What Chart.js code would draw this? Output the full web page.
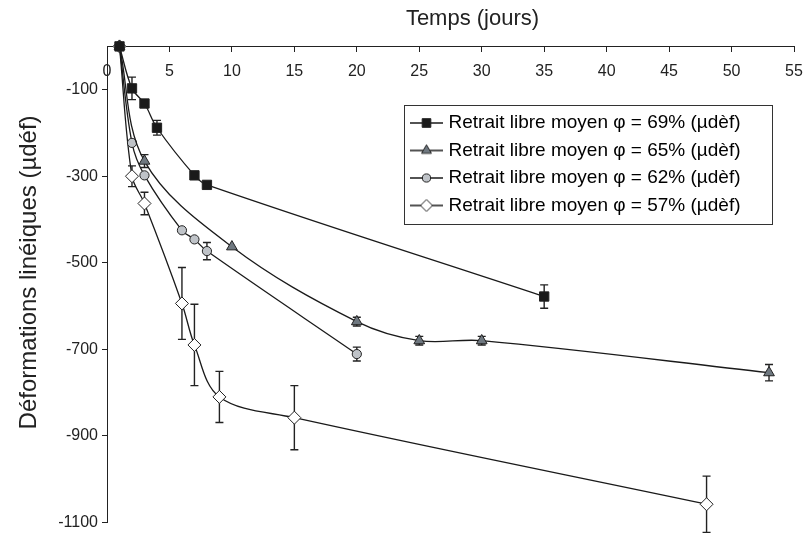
<!DOCTYPE html>
<html>
<head>
<meta charset="utf-8">
<script src="https://cdn.jsdelivr.net/npm/chart.js@4.4.0/dist/chart.umd.min.js"></script>
<style>
  html, body { margin: 0; padding: 0; background: #fff; }
</style>
</head>
<body>
<canvas id="retrait" width="806" height="536"></canvas>
<script>
'use strict';

// retrait libre moyen, temps en jours, déformations en µdéf, erreurs = demi-barres
const jours69 = [1, 2, 3, 4, 7, 8, 35];
const retrait69 = [0, -97, -132, -188, -298, -320, -578];
const erreur69 = [0, 26, 0, 17, 0, 0, 27];

const jours65 = [1, 3, 10, 20, 25, 30, 53];
const retrait65 = [0, -265, -463, -636, -680, -680, -754];
const erreur65 = [0, 15, 0, 10, 10, 10, 19];

const jours62 = [1, 2, 3, 6, 7, 8, 20];
const retrait62 = [0, -223, -298, -425, -446, -473, -711];
const erreur62 = [0, 0, 0, 0, 0, 20, 16];

const jours57 = [1, 2, 3, 6, 7, 9, 15, 48];
const retrait57 = [0, -300, -363, -594, -690, -810, -858, -1058];
const erreur57 = [0, 24, 26, 83, 94, 59, 74, 65];

const libelles = [
  'Retrait libre moyen \u03C6 = 69% (µdèf)',
  'Retrait libre moyen \u03C6 = 65% (µdèf)',
  'Retrait libre moyen \u03C6 = 62% (µdèf)',
  'Retrait libre moyen \u03C6 = 57% (µdèf)'
];

const yTicks = [-1100, -900, -700, -500, -300, -100];

const police = '"Liberation Sans", Arial, Helvetica, sans-serif';
const noir = '#1a1a1a';

function points(xs, ys) {
  return xs.map((x, i) => ({x: x, y: ys[i]}));
}

// petit dessin trait + marqueur pour la légende
function icone(style, fond, rayon) {
  const c = document.createElement('canvas');
  c.width = 33;
  c.height = 16;
  const ctx = c.getContext('2d');
  ctx.strokeStyle = noir;
  ctx.lineWidth = 1.3;
  ctx.beginPath();
  ctx.moveTo(0, 8);
  ctx.lineTo(33, 8);
  ctx.stroke();
  ctx.fillStyle = fond;
  ctx.strokeStyle = '#222';
  ctx.lineWidth = 1;
  Chart.helpers.drawPoint(ctx, {pointStyle: style, radius: rayon, borderWidth: 1, rotation: 0}, 16.5, 8);
  return c;
}

function serie(label, xs, ys, errs, style, fond, rayon) {
  return {
    label: label,
    data: points(xs, ys),
    erreurs: errs,
    borderColor: noir,
    borderWidth: 1.3,
    tension: 0.35,
    fill: false,
    clip: false,
    pointStyle: style,
    pointRadius: rayon,
    pointBackgroundColor: fond,
    pointBorderColor: '#222',
    pointBorderWidth: 1,
    icone: icone(style, fond, rayon - 0.5)
  };
}

// barres d'erreur, sous les marqueurs
const barresErreur = {
  id: 'barresErreur',
  beforeDatasetsDraw(chart) {
    const ctx = chart.ctx;
    const sx = chart.scales.x;
    const sy = chart.scales.y;
    ctx.save();
    ctx.strokeStyle = '#222';
    ctx.lineWidth = 1.4;
    chart.data.datasets.forEach((ds) => {
      ds.data.forEach((p, i) => {
        const e = ds.erreurs[i];
        if (!e) return;
        const px = sx.getPixelForValue(p.x);
        const haut = sy.getPixelForValue(p.y + e);
        const bas = sy.getPixelForValue(p.y - e);
        ctx.beginPath();
        ctx.moveTo(px, haut);
        ctx.lineTo(px, bas);
        ctx.moveTo(px - 4, haut);
        ctx.lineTo(px + 4, haut);
        ctx.moveTo(px - 4, bas);
        ctx.lineTo(px + 4, bas);
        ctx.stroke();
      });
    });
    ctx.restore();
  }
};

// légende encadrée dans la zone du graphe, titres un peu décalés
const placement = {
  id: 'placement',
  afterLayout(chart) {
    const t = chart.titleBlock;
    t.left += 22;
    t.right += 22;
    const lg = chart.legend;
    lg.left = 405.5;
    lg.top = 105;
    lg.right = lg.left + 370;
    lg.bottom = lg.top + 200;
    const sy = chart.scales.y;
    if (!sy._titreDecale) {
      const dessin = sy.drawTitle;
      sy.drawTitle = function () {
        this.ctx.save();
        this.ctx.translate(0, -12);
        dessin.call(this);
        this.ctx.restore();
      };
      sy._titreDecale = true;
    }
  },
  beforeDraw(chart) {
    const ctx = chart.ctx;
    ctx.save();
    ctx.fillStyle = '#fff';
    ctx.strokeStyle = '#333';
    ctx.lineWidth = 1;
    ctx.fillRect(404.5, 105.5, 368, 119);
    ctx.strokeRect(404.5, 105.5, 368, 119);
    ctx.restore();
  }
};

const contexte = document.getElementById('retrait').getContext('2d');

new Chart(contexte, {
  type: 'line',
  data: {
    datasets: [
      serie(libelles[0], jours69, retrait69, erreur69, 'rect', '#1a1a1a', 6.6),
      serie(libelles[1], jours65, retrait65, erreur65, 'triangle', '#6f7880', 6.2),
      serie(libelles[2], jours62, retrait62, erreur62, 'circle', '#bfc3c8', 4.6),
      serie(libelles[3], jours57, retrait57, erreur57, 'rectRot', '#ffffff', 6.5)
    ]
  },
  options: {
    responsive: false,
    animation: false,
    events: [],
    layout: {
      padding: {left: 0, right: 12, top: 0, bottom: 13}
    },
    scales: {
      x: {
        type: 'linear',
        position: {y: 0},
        min: 0,
        max: 55,
        afterFit: (s) => {
          s.paddingLeft = 0;
          s.paddingRight = 0;
        },
        ticks: {
          stepSize: 5,
          padding: 11,
          color: '#222',
          font: {family: police, size: 16}
        },
        grid: {drawOnChartArea: false, tickLength: 5, color: '#222'},
        border: {color: '#222', width: 1}
      },
      y: {
        type: 'linear',
        position: 'left',
        min: -1100,
        max: 0,
        afterBuildTicks: (s) => {
          s.ticks = yTicks.map((v) => ({value: v}));
        },
        afterFit: (s) => {
          s.width = 107;
        },
        ticks: {
          padding: 4,
          color: '#222',
          font: {family: police, size: 16},
          callback: (v) => String(v)
        },
        grid: {drawOnChartArea: false, tickLength: 5, color: '#222'},
        border: {color: '#222', width: 1},
        title: {
          display: true,
          text: 'Déformations linéiques (µdéf)',
          color: '#222',
          font: {family: police, size: 24},
          padding: {top: 15, bottom: 0}
        }
      }
    },
    plugins: {
      title: {
        display: true,
        text: 'Temps (jours)',
        fullSize: false,
        color: '#222',
        font: {family: police, size: 22, weight: 'normal'},
        padding: {top: 6, bottom: 14}
      },
      legend: {
        position: 'chartArea',
        align: 'start',
        labels: {
          usePointStyle: true,
          pointStyleWidth: 25,
          padding: 8.5,
          color: '#222',
          font: {family: police, size: 19},
          generateLabels: (chart) => chart.data.datasets.map((ds, i) => ({
            text: ds.label,
            pointStyle: ds.icone,
            fillStyle: '#fff',
            strokeStyle: noir,
            lineWidth: 0,
            hidden: false,
            datasetIndex: i
          }))
        }
      },
      tooltip: {enabled: false}
    }
  },
  plugins: [barresErreur, placement]
});
</script>
</body>
</html>
